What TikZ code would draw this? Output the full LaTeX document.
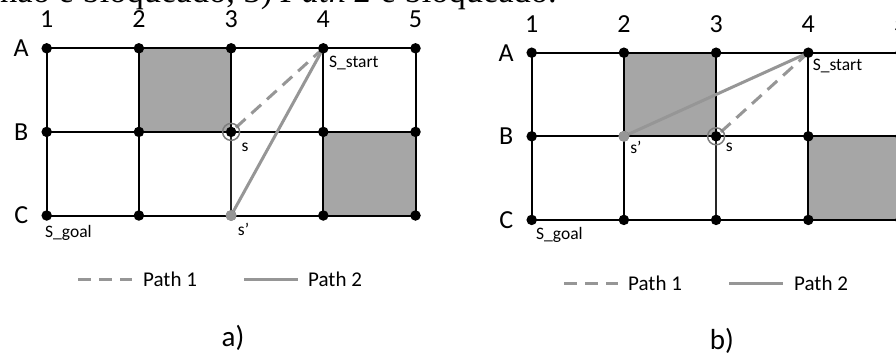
\documentclass[tikz,border=0pt]{standalone}
\usepackage{fontspec}
\setmainfont{Carlito}
\newfontfamily\captionserif{Liberation Serif}
\usetikzlibrary{calc}

\definecolor{blockgray}{RGB}{166,166,166}
\definecolor{pathgray}{RGB}{150,150,150}
\definecolor{ringgray}{RGB}{125,125,125}

\tikzset{
  gridline/.style={line width=2pt, black},
  thinline/.style={line width=1.4pt, black!85},
  vertex/.style={circle, fill=black, inner sep=0pt, minimum size=10.5pt},
  graydot/.style={circle, fill=pathgray, inner sep=0pt, minimum size=11pt},
  ring/.style={circle, draw=ringgray, line width=1.5pt, inner sep=0pt, minimum size=17pt},
  pathone/.style={pathgray, line width=3pt, dash pattern=on 13pt off 8pt},
  pathtwo/.style={pathgray, line width=3pt},
  axislbl/.style={font=\fontsize{26}{26}\selectfont, inner sep=0pt},
  celllbl/.style={font=\fontsize{17.5}{18}\selectfont, inner sep=0pt},
  legendlbl/.style={font=\fontsize{21}{22}\selectfont, inner sep=0pt},
  panellbl/.style={font=\fontsize{29}{30}\selectfont, inner sep=0pt},
}

% 3 x 5 grid of vertices named <prefix><row><column>, blocked cells shaded
\newcommand\gridpanel[3]{%
  \begin{scope}[shift={(#2,#3)}]
    \foreach \r [count=\ri from 0] in {A,B,C}
      \foreach \c in {1,...,5}
        \coordinate (#1\r\c) at ({(\c-1)*92.2},{\ri*83.6});
  \end{scope}
  \fill[blockgray] (#1A2) rectangle (#1B3);
  \fill[blockgray] (#1B4) rectangle (#1C5);
  \foreach \r in {A,B,C}
    \draw[gridline] (#1\r1) -- (#1\r5);
  \foreach \c in {1,2,4,5}
    \draw[gridline] (#1A\c) -- (#1C\c);
  \draw[gridline] (#1A3) -- (#1B3);
  \draw[thinline] (#1B3) -- (#1C3);
  \foreach \r/\lt in {A/A,B/B,C/C}
    \node[axislbl] (#1lbl\r) at ($(#1\r1)+(-25.5,0)$) {\lt};
  \foreach \c in {1,...,5}
    \node[axislbl] (#1lbl\c) at ($(#1A\c)+(0,-29)$) {\c};
}

\begin{document}
\begin{tikzpicture}[x=1pt,y=-1pt]
  \useasboundingbox (0,0) rectangle (896,354);
  \clip (0,0) rectangle (896,354);

  % running text of the page, cut by the top edge
  \node[anchor=base west, inner sep=0pt,
        font=\captionserif\fontsize{34.5}{36}\selectfont] (runtext) at (0,2.5)
        {não é bloqueado, 3) \textit{Path 2} é bloqueado.};

  % ---------------- panel a ----------------
  \gridpanel{L-}{46.7}{48.3}
  \draw[pathone] (L-A4) -- (L-B3);
  \draw[pathtwo] (L-A4) -- (L-C3);
  \foreach \r in {A,B,C}
    \foreach \c in {1,...,5}
      \node[vertex] (L-v\r\c) at (L-\r\c) {};
  \node[graydot] (L-sp) at (L-C3) {};
  \node[ring] (L-s) at (L-B3) {};
  \node[celllbl, anchor=west] (L-tstart) at ($(L-A4)+(5.6,14.7)$) {S\_start};
  \node[celllbl] (L-ts) at ($(L-B3)+(14,15)$) {s};
  \node[celllbl] (L-tsp) at ($(L-C3)+(12.5,14)$) {s’};
  \node[celllbl, anchor=west] (L-tgoal) at ($(L-C1)+(-1.7,17)$) {S\_goal};

  % ---------------- panel b ----------------
  \gridpanel{R-}{531.7}{52.7}
  \draw[pathone] (R-A4) -- (R-B3);
  \draw[pathtwo] (R-A4) -- (R-B2);
  \foreach \r in {A,B,C}
    \foreach \c in {1,...,5}
      \node[vertex] (R-v\r\c) at (R-\r\c) {};
  \node[graydot] (R-sp) at (R-B2) {};
  \node[ring] (R-s) at (R-B3) {};
  \node[celllbl, anchor=west] (R-tstart) at ($(R-A4)+(4.3,13.5)$) {S\_start};
  \node[celllbl] (R-tsp) at ($(R-B2)+(12,11.5)$) {s’};
  \node[celllbl] (R-ts) at ($(R-B3)+(13.3,11.5)$) {s};
  \node[celllbl, anchor=west] (R-tgoal) at ($(R-C1)+(4.3,15)$) {S\_goal};

  % ---------------- legends ----------------
  \coordinate (L-k1a) at (78,279);  \coordinate (L-k1b) at (132,279);
  \coordinate (L-k2a) at (244,279); \coordinate (L-k2b) at (298,279);
  \draw[pathone] (L-k1a) -- (L-k1b);
  \draw[pathtwo] (L-k2a) -- (L-k2b);
  \node[legendlbl, anchor=west] (L-key1) at (143,279) {Path 1};
  \node[legendlbl, anchor=west] (L-key2) at (308,279) {Path 2};

  \coordinate (R-k1a) at (564,283); \coordinate (R-k1b) at (618,283);
  \coordinate (R-k2a) at (729,283); \coordinate (R-k2b) at (783,283);
  \draw[pathone] (R-k1a) -- (R-k1b);
  \draw[pathtwo] (R-k2a) -- (R-k2b);
  \node[legendlbl, anchor=west] (R-key1) at (628,283) {Path 1};
  \node[legendlbl, anchor=west] (R-key2) at (794,283) {Path 2};

  % ---------------- panel captions ----------------
  \node[panellbl] (capa) at (233,338) {a)};
  \node[panellbl] (capb) at (722,340.5) {b)};
\end{tikzpicture}
\end{document}
